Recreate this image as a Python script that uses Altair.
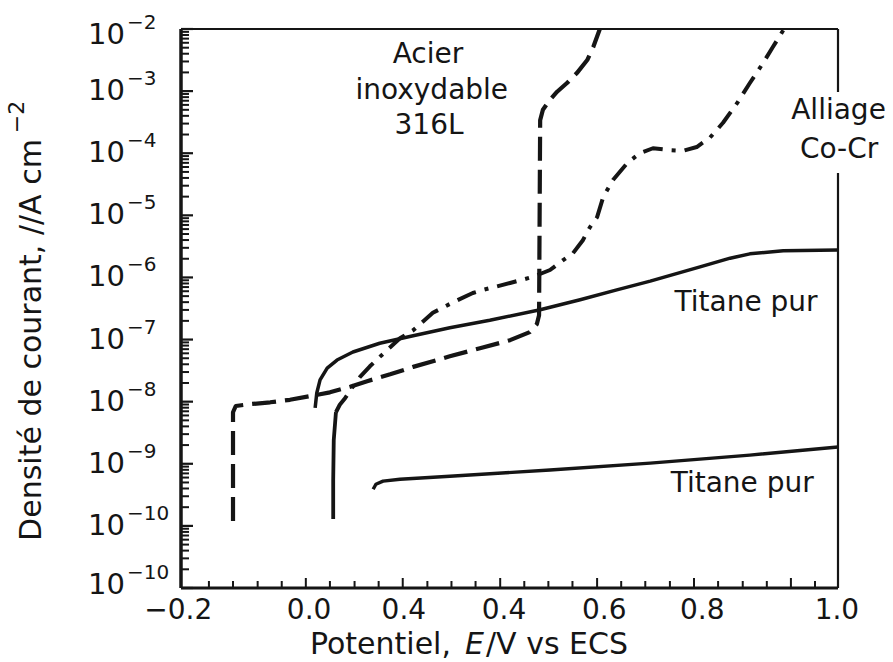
import math
import altair as alt
import pandas as pd

FONT = "DejaVu Sans"
INK = "#151515"

# ---------------- data (E in V vs ECS, log10 of current density in A cm-2) -------------
# Acier inoxydable 316L (dashed)
acier_E = [-0.105, -0.105, -0.100, -0.074, -0.037, -0.001, 0.036, 0.072, 0.109, 0.140,
           0.182, 0.224, 0.291, 0.346, 0.401, 0.437, 0.450, 0.454, 0.456, 0.461,
           0.474, 0.487, 0.505, 0.523, 0.542, 0.553, 0.565]
acier_logj = [-9.92, -8.17, -8.07, -8.04, -8.01, -7.97, -7.91, -7.85, -7.76, -7.67,
              -7.56, -7.44, -7.27, -7.14, -7.01, -6.88, -6.75, -6.61, -3.47, -3.30,
              -3.14, -3.01, -2.87, -2.71, -2.50, -2.29, -2.00]

# Alliage Co-Cr : steep cathodic branch (solid) then dash-dot
cocr_low_E = [0.078, 0.078, 0.079, 0.083]
cocr_low_logj = [-9.89, -9.26, -8.62, -8.17]
cocr_E = [0.083, 0.090, 0.100, 0.112, 0.127, 0.145, 0.163, 0.200, 0.224, 0.260,
          0.297, 0.333, 0.352, 0.401, 0.443, 0.474, 0.498, 0.516, 0.534, 0.547,
          0.560, 0.571, 0.589, 0.615, 0.638, 0.662, 0.693, 0.717, 0.742, 0.766,
          0.790, 0.816, 0.839, 0.863, 0.881, 0.900]
cocr_logj = [-8.17, -8.05, -7.94, -7.78, -7.60, -7.43, -7.28, -6.98, -6.85, -6.57,
             -6.40, -6.25, -6.20, -6.09, -5.99, -5.88, -5.72, -5.61, -5.40, -5.19,
             -5.03, -4.71, -4.43, -4.16, -4.00, -3.92, -3.95, -3.96, -3.90, -3.75,
             -3.51, -3.19, -2.87, -2.55, -2.29, -2.02]

# Titane pur (upper curve)
ti1_E = [0.045, 0.048, 0.054, 0.067, 0.085, 0.114, 0.163, 0.224, 0.291, 0.364,
         0.456, 0.529, 0.596, 0.657, 0.748, 0.803, 0.839, 0.900, 1.000]
ti1_logj = [-8.10, -7.86, -7.65, -7.46, -7.33, -7.20, -7.06, -6.94, -6.81, -6.69,
            -6.52, -6.36, -6.20, -6.06, -5.83, -5.69, -5.62, -5.57, -5.56]

# Titane pur (lower curve)
ti2_E = [0.151, 0.156, 0.169, 0.200, 0.291, 0.474, 0.657, 0.839, 1.000]
ti2_logj = [-9.41, -9.33, -9.28, -9.25, -9.20, -9.10, -8.99, -8.86, -8.73]

# x tick labels (as printed on the original figure) and their positions
xlab_pos = [-0.205, 0.034, 0.207, 0.390, 0.573, 0.752, 0.998]
xlab_text = ["\u22120.2", "0.0", "0.4", "0.4", "0.6", "0.8", "1.0"]
x_minor_ticks = [-0.149, -0.105, -0.060, -0.016, 0.072, 0.117, 0.161, 0.250, 0.294,
                 0.338, 0.427, 0.471, 0.515, 0.604, 0.648, 0.693, 0.781, 0.826,
                 0.870, 0.958]
x_major_ticks = [0.028, 0.205, 0.383, 0.560, 0.737, 0.914]

# y tick labels (10^exp, as printed) and their positions (log10 units)
ylab_pos = [-2.1, -3, -4, -5, -6, -7, -8, -9, -10, -10.95]
ylab_exp = ["\u22122", "\u22123", "\u22124", "\u22125", "\u22126", "\u22127",
            "\u22128", "\u22129", "\u221210", "\u221210"]
y_decades = [-2, -3, -4, -5, -6, -7, -8, -9, -10, -11]

# curve annotations
ann_text = ["Acier", "inoxydable", "316L", "Alliage", "Co-Cr", "Titane pur", "Titane pur"]
ann_E = [0.251, 0.258, 0.253, 1.001, 1.002, 0.832, 0.825]
ann_logj = [-2.420, -2.998, -3.560, -3.320, -3.948, -6.404, -9.326]

# ---------------- chart ----------------
W, H = 657, 559
xs = alt.Scale(domain=[-0.2, 1.0], nice=False, zero=False)
ys = alt.Scale(domain=[-11, -2], nice=False, zero=False)


def curve(E, L, **kw):
    d = pd.DataFrame({"E": E, "logj": L, "i": list(range(len(E)))})
    return alt.Chart(d).mark_line(color=INK, strokeCap="butt", strokeJoin="round", **kw).encode(
        x=alt.X("E:Q", scale=xs, axis=None),
        y=alt.Y("logj:Q", scale=ys, axis=None),
        order=alt.Order("i:Q"),
    )


layers = []
layers.append(curve(ti1_E, ti1_logj, strokeWidth=3.5))
layers.append(curve(ti2_E, ti2_logj, strokeWidth=3.4))
layers.append(curve(cocr_low_E, cocr_low_logj, strokeWidth=3.8))
layers.append(curve(cocr_E, cocr_logj, strokeWidth=4, strokeDash=[20, 9, 4, 9]))
layers.append(curve(acier_E, acier_logj, strokeWidth=4.2, strokeDash=[24, 9]))

# frame
def rule(**enc):
    return alt.Chart(pd.DataFrame({"a": [0]})).mark_rule(color=INK, strokeWidth=enc.pop("sw")).encode(**enc)

layers.append(rule(sw=3.5, x=alt.value(0), y=alt.value(0), y2=alt.value(H)))
layers.append(rule(sw=3, x=alt.value(0), x2=alt.value(W), y=alt.value(H)))
layers.append(rule(sw=1.8, x=alt.value(0), x2=alt.value(W), y=alt.value(0)))
layers.append(rule(sw=2.2, x=alt.value(W), y=alt.value(0), y2=alt.value(63)))
layers.append(rule(sw=2.2, x=alt.value(W), y=alt.value(144), y2=alt.value(H)))

# x ticks (inward)
xt_min = pd.DataFrame({"E": x_minor_ticks})
xt_maj = pd.DataFrame({"E": x_major_ticks})
layers.append(alt.Chart(xt_min).mark_rule(color=INK, strokeWidth=2).encode(
    x=alt.X("E:Q", scale=xs, axis=None), y=alt.value(H), y2=alt.value(H - 7)))
layers.append(alt.Chart(xt_maj).mark_rule(color=INK, strokeWidth=2).encode(
    x=alt.X("E:Q", scale=xs, axis=None), y=alt.value(H), y2=alt.value(H - 10)))

# y ticks (inward): decades and log minor ticks
y_minor = [d + math.log10(m) for d in y_decades[1:] for m in range(2, 10)]
yt_min = pd.DataFrame({"logj": y_minor})
yt_maj = pd.DataFrame({"logj": y_decades})
layers.append(alt.Chart(yt_min).mark_rule(color=INK, strokeWidth=2).encode(
    y=alt.Y("logj:Q", scale=ys, axis=None), x=alt.value(0), x2=alt.value(8)))
layers.append(alt.Chart(yt_maj).mark_rule(color=INK, strokeWidth=2.2).encode(
    y=alt.Y("logj:Q", scale=ys, axis=None), x=alt.value(0), x2=alt.value(12)))

# x tick labels
xl = pd.DataFrame({"E": xlab_pos, "t": xlab_text})
layers.append(alt.Chart(xl).mark_text(font=FONT, fontSize=28, color=INK, align="center",
                                      baseline="middle").encode(
    x=alt.X("E:Q", scale=xs, axis=None), y=alt.value(H + 23), text="t:N"))

# y tick labels: "10" + superscript exponent
yl = pd.DataFrame({"logj": ylab_pos, "base": ["10"] * len(ylab_pos), "exp": ylab_exp})
layers.append(alt.Chart(yl).mark_text(font=FONT, fontSize=29, color=INK, align="right",
                                      baseline="middle").encode(
    y=alt.Y("logj:Q", scale=ys, axis=None), x=alt.value(-56), text="base:N"))
layers.append(alt.Chart(yl).mark_text(font=FONT, fontSize=20, color=INK, align="left",
                                      baseline="middle", dy=-12).encode(
    y=alt.Y("logj:Q", scale=ys, axis=None), x=alt.value(-54), text="exp:N"))

# curve annotations
an = pd.DataFrame({"E": ann_E, "logj": ann_logj, "t": ann_text})
layers.append(alt.Chart(an).mark_text(font=FONT, fontSize=28, color=INK, align="center",
                                      baseline="middle").encode(
    x=alt.X("E:Q", scale=xs, axis=None), y=alt.Y("logj:Q", scale=ys, axis=None), text="t:N"))

# axis titles
one = pd.DataFrame({"a": [0]})
layers.append(alt.Chart(one).mark_text(font=FONT, fontSize=30, color=INK, align="right",
                                       baseline="middle", text="Potentiel,").encode(
    x=alt.value(270), y=alt.value(616)))
layers.append(alt.Chart(one).mark_text(font=FONT, fontSize=30, color=INK, align="left",
                                       baseline="middle", fontStyle="italic", text="E").encode(
    x=alt.value(284), y=alt.value(616)))
layers.append(alt.Chart(one).mark_text(font=FONT, fontSize=30, color=INK, align="left",
                                       baseline="middle", text="/V vs ECS").encode(
    x=alt.value(305), y=alt.value(616)))
layers.append(alt.Chart(one).mark_text(font=FONT, fontSize=30, color=INK, align="center",
                                       baseline="middle", angle=270,
                                       text="Densit\u00e9 de courant, //A cm").encode(
    x=alt.value(-149), y=alt.value(311)))
layers.append(alt.Chart(one).mark_text(font=FONT, fontSize=22, color=INK, align="center",
                                       baseline="middle", angle=270, text="\u22122").encode(
    x=alt.value(-164), y=alt.value(88)))

chart = alt.layer(*layers).properties(
    width=W, height=H,
    autosize=alt.AutoSizeParams(type="none"),
    padding={"left": 181, "top": 29, "right": 55, "bottom": 74},
    background="white",
).configure_view(strokeOpacity=0)

chart.save("out.html", embed_options={"renderer": "svg", "actions": False})
